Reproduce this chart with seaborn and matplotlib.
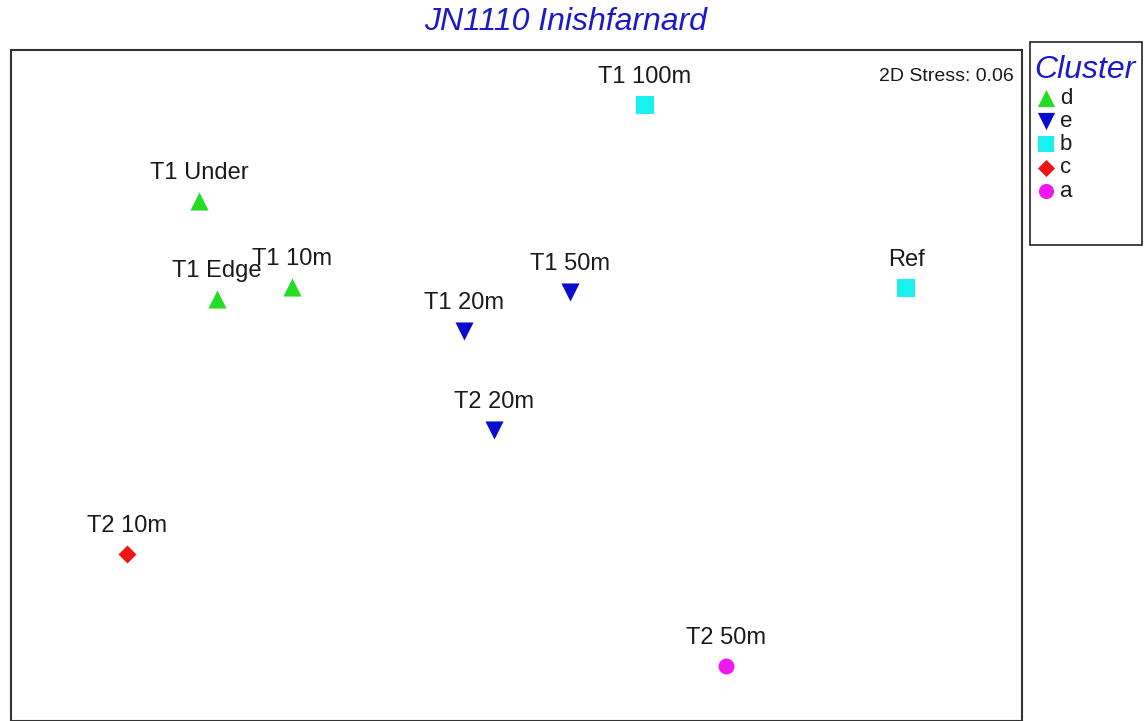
import matplotlib
matplotlib.use("Agg")
import matplotlib.pyplot as plt
from matplotlib.patches import Rectangle
import seaborn as sns
import pandas as pd

# MDS ordination coordinates for each sample and its cluster assignment
samples = ["T1 100m", "T1 Under", "T1 Edge", "T1 10m", "T1 50m",
           "T1 20m", "T2 20m", "Ref", "T2 10m", "T2 50m"]
mds_x = [0.79, -3.67, -3.49, -2.74, 0.04, -1.02, -0.72, 3.40, -4.39, 1.60]
mds_y = [2.80, 1.84, 0.86, 0.98, 0.93, 0.54, -0.45, 0.97, -1.69, -2.81]
cluster = ["b", "d", "d", "d", "e", "e", "e", "b", "c", "a"]

cluster_order = ["d", "e", "b", "c", "a"]
cluster_colors = {"d": "#22dd22", "e": "#0b0bd0", "b": "#19f0f0",
                  "c": "#f01414", "a": "#f018f0"}
cluster_markers = {"d": "^", "e": "v", "b": "s", "c": "D", "a": "o"}
cluster_sizes = {"d": 170, "e": 170, "b": 150, "c": 84, "a": 132}
stress = 0.06

df = pd.DataFrame({"sample": samples, "x": mds_x, "y": mds_y, "cluster": cluster})

sns.set_theme(style="white")
plt.rcParams["font.family"] = ["Liberation Sans", "DejaVu Sans"]

W, H = 1146, 721
fig = plt.figure(figsize=(W / 100, H / 100), dpi=100)
ax = fig.add_axes([11 / W, 0.0, 1011 / W, 671 / H])

for cl in cluster_order:
    sub = df[df["cluster"] == cl]
    sns.scatterplot(data=sub, x="x", y="y", ax=ax, marker=cluster_markers[cl],
                    color=cluster_colors[cl], s=cluster_sizes[cl],
                    linewidth=0, label=cl, legend=False)

for _, row in df.iterrows():
    ax.annotate(row["sample"], (row["x"], row["y"]), xytext=(0, 20),
                textcoords="offset points", ha="center", va="center",
                fontsize=17, color="#1a1a1a")

ax.set_xlim(-5.55, 4.56)
ax.set_ylim(-3.36, 3.35)
ax.set_xticks([])
ax.set_yticks([])
ax.set_xlabel("")
ax.set_ylabel("")
for sp in ax.spines.values():
    sp.set_color("#333333")
    sp.set_linewidth(1.5)

ax.text(0.992, 0.96, f"2D Stress: {stress:.2f}", transform=ax.transAxes,
        ha="right", va="center", fontsize=14, color="#1a1a1a")

fig.text(566 / W, 1 - 22 / H, "JN1110 Inishfarnard", ha="center", va="center",
         fontsize=23, style="italic", color="#1a1ac8")

# legend box
fig.patches.append(Rectangle((1030 / W, 1 - 245 / H), 112 / W, 203 / H,
                             transform=fig.transFigure, fill=False,
                             edgecolor="#222222", linewidth=1.2))

handles, labels = ax.get_legend_handles_labels()
leg = fig.legend(handles, labels, loc="upper left",
                 bbox_to_anchor=(1030 / W, 1 - 51 / H),
                 borderaxespad=0, frameon=False,
                 fontsize=16, title="Cluster", handletextpad=0.15,
                 handlelength=1.0, labelspacing=0.1, borderpad=0.2,
                 markerscale=0.95, alignment="left")
leg.get_title().set_fontsize(23)
leg.get_title().set_style("italic")
leg.get_title().set_color("#1a1ac8")
for t in leg.get_texts():
    t.set_color("#1a1a1a")

fig.savefig("out.png", dpi=100, facecolor="white")
